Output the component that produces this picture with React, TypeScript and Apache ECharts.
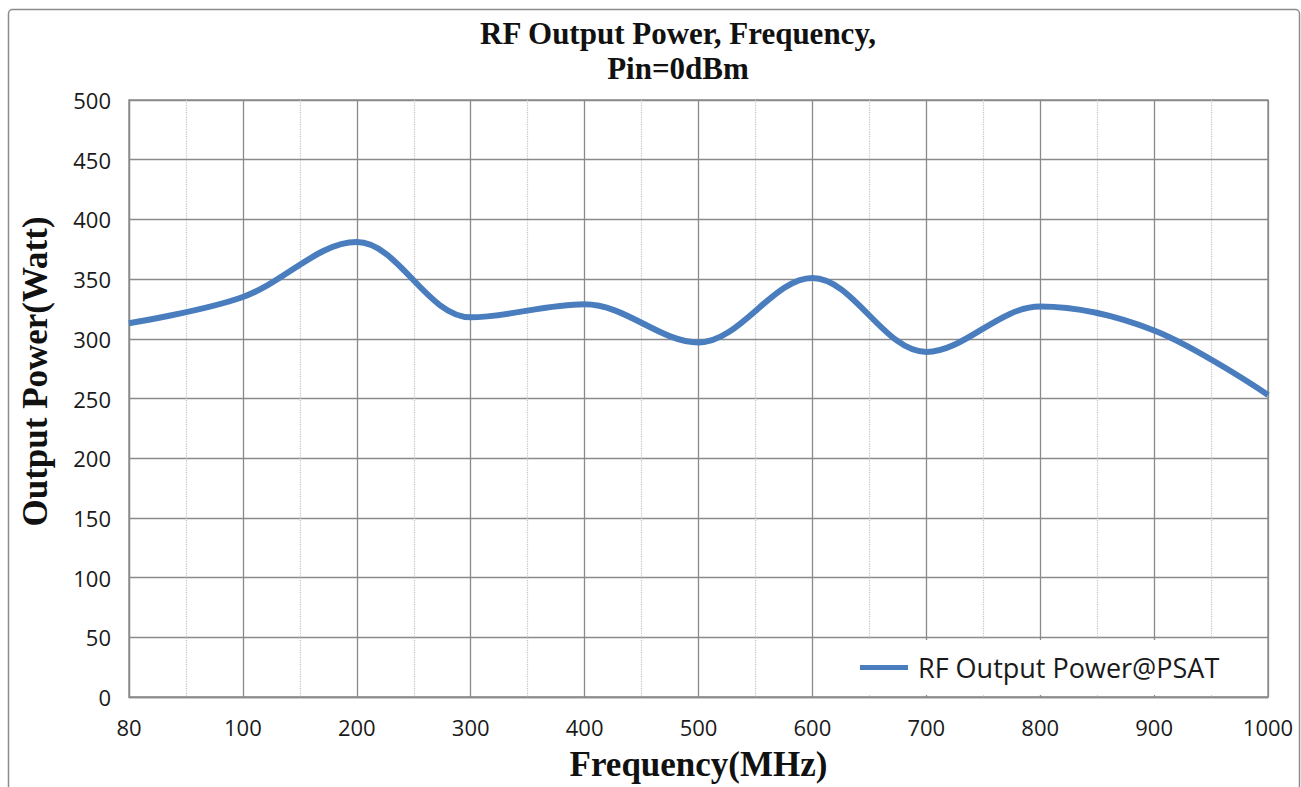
import React, { useEffect, useRef } from "react";
import * as echarts from "echarts";

const freqLabels = ["80", "100", "200", "300", "400", "500", "600", "700", "800", "900", "1000"];
const outputPower = [313, 335, 381, 318, 329, 297, 351, 289, 327, 307, 253];
const seriesName = "RF Output Power@PSAT";
const titleText = "RF Output Power, Frequency,\nPin=0dBm";
const xName = "Frequency(MHz)";
const yName = "Output Power(Watt)";

export default function App() {
  const ref = useRef<HTMLDivElement>(null);
  useEffect(() => {
    if (!ref.current) return;
    const chart = echarts.init(ref.current, null, { renderer: "svg" });
    const gridColor = "#8a8a8a";
    chart.setOption({
      animation: false,
      backgroundColor: "#ffffff",
      title: {
        text: titleText,
        left: 673,
        top: 11,
        textAlign: "center",
        textStyle: {
          fontFamily: "Liberation Serif",
          fontWeight: "bold",
          fontSize: 31,
          lineHeight: 35,
          color: "#111",
        },
      },
      graphic: [
        {
          type: "rect",
          left: 6,
          top: 7,
          shape: { x: 0, y: 0, width: 1291, height: 800, r: 4 },
          style: { fill: "none", stroke: "#8c8c8c", lineWidth: 1.5 },
          silent: true,
          z: -1,
        },
      ],
      grid: {
        left: 129,
        right: 33,
        top: 100,
        bottom: 89,
        show: true,
        borderColor: gridColor,
        borderWidth: 1.3,
      },
      legend: {
        data: [seriesName],
        left: 815,
        top: 640,
        padding: [14, 42, 14, 45],
        backgroundColor: "#ffffff",
        icon: "rect",
        itemWidth: 48,
        itemHeight: 5,
        itemGap: 10,
        textStyle: {
          fontFamily: "Open Sans",
          fontSize: 27,
          color: "#1a1a1a",
          padding: [0, 0, 0, 5],
        },
        z: 10,
      },
      xAxis: {
        type: "value",
        min: 0,
        max: freqLabels.length - 1,
        interval: 1,
        name: xName,
        nameLocation: "middle",
        nameGap: 50,
        nameTextStyle: {
          fontFamily: "Liberation Serif",
          fontWeight: "bold",
          fontSize: 35,
          color: "#111",
        },
        axisLine: { show: true, lineStyle: { color: gridColor, width: 1.3 } },
        axisTick: { show: false },
        axisLabel: {
          formatter: (v: number) => freqLabels[Math.round(v)] ?? "",
          fontFamily: "Open Sans",
          fontSize: 22,
          color: "#1a1a1a",
          margin: 19,
        },
        splitLine: { show: true, lineStyle: { color: gridColor, width: 1.3 } },
        minorTick: { show: false, splitNumber: 2 },
        minorSplitLine: { show: true, lineStyle: { color: "#c4c4c4", type: "dotted", width: 1.2 } },
      },
      yAxis: {
        type: "value",
        min: 0,
        max: 500,
        interval: 50,
        name: yName,
        nameLocation: "middle",
        nameGap: 76,
        nameTextStyle: {
          fontFamily: "Liberation Serif",
          fontWeight: "bold",
          fontSize: 35,
          color: "#111",
          padding: [0, 0, 0, 54],
        },
        axisLine: { show: true, lineStyle: { color: gridColor, width: 1.3 } },
        axisTick: { show: false },
        axisLabel: {
          fontFamily: "Open Sans",
          fontSize: 22,
          color: "#1a1a1a",
          margin: 18,
        },
        splitLine: { show: true, lineStyle: { color: gridColor, width: 1.3 } },
      },
      series: [
        {
          name: seriesName,
          type: "line",
          smooth: 0.35,
          symbol: "none",
          data: freqLabels.map((_, i) => [i, outputPower[i]]),
          lineStyle: { color: "#4a7dbd", width: 6 },
          itemStyle: { color: "#4a7dbd" },
          z: 5,
        },
      ],
    });
    return () => chart.dispose();
  }, []);
  return (
    <div
      ref={ref}
      style={{ position: "fixed", left: 0, top: 0, width: 1301, height: 787, background: "#fff" }}
    />
  );
}
